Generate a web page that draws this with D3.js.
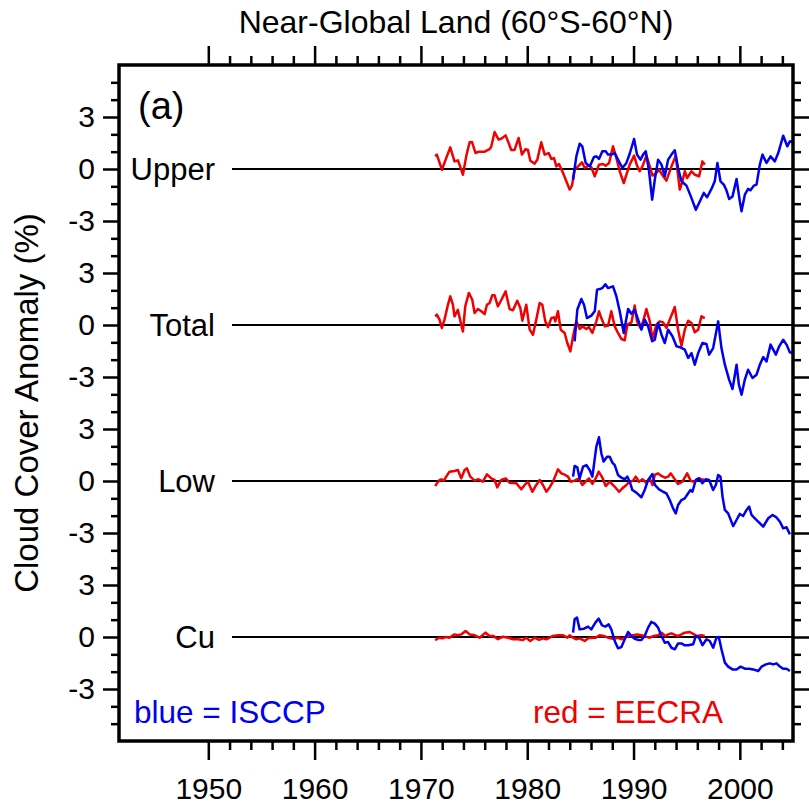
<!DOCTYPE html>
<html>
<head>
<meta charset="utf-8">
<script src="https://cdn.jsdelivr.net/npm/d3@7"></script>
<style>
  body { margin: 0; background: #fff; }
  svg text { font-family: "Liberation Sans", Arial, Helvetica, sans-serif; fill: #000; }
</style>
</head>
<body>
<div id="chart"></div>
<script>
// panels, stacked on one y axis, 9 units apart
const panelNames = ['Upper', 'Total', 'Low', 'Cu'];
const panelOffsets = [27, 18, 9, 0];

const xMajorTicks = [1950, 1960, 1970, 1980, 1990, 2000];
const yTickValues = [-3, 0, 3, 6, 9, 12, 15, 18, 21, 24, 27, 30];
const yTickLabels = ['-3', '0', '3', '-3', '0', '3', '-3', '0', '3', '-3', '0', '3'];

// [year, anomaly %]  red = EECRA, blue = ISCCP
const upperEECRA = [
  [1971.34, 0.73], [1971.50, 0.83], [1971.97, -0.04], [1972.38, 0.63], [1972.76, 1.25], [1973.16, 0.44],
  [1973.48, 0.50], [1973.63, 0.25], [1973.95, -0.33], [1974.26, 0.73], [1974.58, 1.54], [1974.80, 1.56],
  [1975.14, 0.92], [1975.42, 1.00], [1975.99, 1.00], [1976.46, 1.15], [1976.62, 1.30], [1976.93, 2.13],
  [1977.31, 1.69], [1977.56, 1.75], [1977.97, 1.94], [1978.50, 1.10], [1978.81, 1.10], [1979.19, 1.79],
  [1979.50, 0.83], [1979.85, 1.15], [1980.07, 1.10], [1980.29, 0.48], [1980.70, 0.31], [1980.95, 0.54],
  [1981.32, 1.54], [1981.64, 0.83], [1982.02, 0.92], [1982.27, 0.58], [1982.52, 0.63], [1982.74, 0.15],
  [1982.99, 0.29], [1983.37, -0.23], [1983.68, -0.71], [1983.99, -1.19], [1984.21, -0.96], [1984.46, -0.04],
  [1984.78, 0.15], [1985.15, 0.38], [1985.41, 0.06], [1985.81, 0.21], [1986.03, 0.10], [1986.35, -0.42],
  [1986.75, 0.25], [1987.13, 0.29], [1987.38, 0.19], [1987.70, 0.35], [1988.07, 1.31], [1988.39, 0.63],
  [1988.70, -0.13], [1989.08, -0.81], [1989.33, -0.33], [1989.64, 0.25], [1990.05, 0.77], [1990.33, 0.19],
  [1990.58, -0.13], [1990.84, 0.15], [1991.21, 0.77], [1991.53, 0.15], [1991.78, -0.38], [1992.15, -0.23],
  [1992.40, -0.04], [1992.69, -0.33], [1993.09, -0.67], [1993.57, 0.15], [1993.97, 0.77], [1994.35, -1.19],
  [1994.60, -0.71], [1994.82, -0.13], [1995.04, -0.52], [1995.45, -0.13], [1995.76, -0.33], [1996.17, -0.42],
  [1996.48, 0.44], [1996.70, 0.25]
];
const upperISCCP = [
  [1984.31, -0.62], [1984.62, 0.73], [1984.93, 1.46], [1985.18, 1.31], [1985.50, 0.35], [1985.88, 0.15],
  [1986.28, 0.69], [1986.50, 0.73], [1986.75, 0.58], [1987.07, 1.02], [1987.38, 1.02], [1987.60, 0.83],
  [1987.91, 0.83], [1988.23, 0.92], [1988.54, 0.54], [1988.95, 0.06], [1989.33, 0.35], [1989.64, 0.88],
  [1990.05, 1.73], [1990.33, 0.83], [1990.65, 0.54], [1990.90, 0.83], [1991.15, 1.02], [1991.46, -0.13],
  [1991.75, -1.77], [1992.00, -0.62], [1992.31, 0.54], [1992.63, 0.25], [1992.94, -0.42], [1993.25, 0.54],
  [1993.57, 0.83], [1993.88, 1.08], [1994.19, 0.06], [1994.51, -0.71], [1994.98, -0.96], [1995.39, -1.58],
  [1995.86, -2.35], [1996.23, -1.87], [1996.61, -1.38], [1996.92, -1.63], [1997.33, -1.15], [1997.64, -0.71],
  [1997.89, 0.35], [1998.18, -0.71], [1998.49, -0.90], [1998.74, -1.23], [1998.99, -1.73], [1999.31, -1.58],
  [1999.69, -0.58], [2000.00, -1.87], [2000.16, -2.44], [2000.47, -1.48], [2000.78, -1.15], [2001.00, -1.23],
  [2001.32, -0.96], [2001.57, -0.90], [2001.88, 0.25], [2002.13, 0.83], [2002.51, 0.35], [2002.89, 0.73],
  [2003.29, 0.44], [2003.61, 0.92], [2004.08, 1.92], [2004.46, 1.31], [2004.71, 1.60], [2005.02, 1.54]
];

const totalEECRA = [
  [1971.34, 0.50], [1971.50, 0.60], [1971.75, 0.31], [1971.97, -0.17], [1972.22, 0.31], [1972.54, 1.17],
  [1972.76, 1.65], [1973.01, 1.17], [1973.16, 0.50], [1973.48, 0.88], [1973.79, 0.02], [1973.95, -0.37],
  [1974.17, 1.08], [1974.51, 1.85], [1974.83, 1.46], [1975.05, 0.69], [1975.36, 0.92], [1975.68, 0.79],
  [1975.99, 0.63], [1976.21, 1.17], [1976.46, 1.27], [1976.71, 1.71], [1976.93, 1.71], [1977.24, 1.08],
  [1977.50, 1.37], [1977.97, 1.94], [1978.34, 0.92], [1978.66, 0.85], [1979.06, 1.40], [1979.35, 0.98],
  [1979.54, 0.25], [1979.91, 1.17], [1980.23, -0.27], [1980.54, -0.56], [1980.85, 0.31], [1981.17, 1.27],
  [1981.42, 1.17], [1981.70, 0.21], [1981.95, -0.12], [1982.27, 0.40], [1982.52, 0.44], [1982.64, 0.21],
  [1982.89, 0.79], [1983.15, -0.27], [1983.52, -0.46], [1983.77, -1.04], [1984.06, -1.52], [1984.31, -0.65],
  [1984.62, 0.21], [1984.93, -0.23], [1985.18, -0.08], [1985.56, -0.23], [1985.81, -0.12], [1986.13, -0.46],
  [1986.50, 0.21], [1986.75, 0.79], [1986.97, 0.40], [1987.29, -0.08], [1987.60, -0.04], [1987.91, 0.79],
  [1988.23, -0.08], [1988.54, -0.46], [1988.86, -0.81], [1989.17, -0.88], [1989.42, 0.02], [1989.80, 0.15],
  [1990.11, 1.12], [1990.33, 0.21], [1990.65, -0.17], [1990.90, 0.21], [1991.21, 0.92], [1991.53, 0.21],
  [1991.78, -0.81], [1992.15, 0.02], [1992.47, 0.21], [1992.78, 0.15], [1993.09, -0.17], [1993.47, 0.40],
  [1993.88, 1.04], [1994.19, -0.27], [1994.51, -1.19], [1994.82, -0.27], [1995.14, 0.25], [1995.45, 0.12],
  [1995.76, -0.42], [1996.08, -0.27], [1996.39, 0.50], [1996.70, 0.40]
];
const totalISCCP = [
  [1984.46, -0.94], [1984.71, 0.88], [1985.09, 1.50], [1985.34, 1.17], [1985.62, 0.40], [1986.03, 0.54],
  [1986.35, 0.79], [1986.57, 2.04], [1986.82, 2.08], [1987.07, 2.13], [1987.35, 2.35], [1987.60, 2.13],
  [1988.07, 2.23], [1988.39, 1.65], [1988.70, 0.79], [1989.08, -0.46], [1989.49, 0.92], [1989.80, 0.65],
  [1990.11, 0.88], [1990.43, 0.31], [1990.74, -0.27], [1991.05, 0.31], [1991.37, -0.08], [1991.75, -0.94],
  [1992.00, -0.85], [1992.31, 0.12], [1992.63, -0.56], [1992.94, -1.04], [1993.25, -0.27], [1993.66, -0.65],
  [1994.04, -1.23], [1994.41, -1.29], [1994.82, -1.42], [1995.14, -1.90], [1995.45, -1.62], [1995.76, -2.29],
  [1996.08, -1.62], [1996.48, -1.04], [1996.86, -1.10], [1997.11, -1.71], [1997.49, -1.33], [1997.96, 0.21],
  [1998.27, -1.33], [1998.59, -2.29], [1998.99, -3.15], [1999.31, -3.69], [1999.69, -2.29], [1999.91, -3.44],
  [2000.16, -4.02], [2000.47, -3.15], [2000.78, -2.58], [2001.19, -3.06], [2001.57, -2.87], [2001.88, -2.29],
  [2002.20, -1.85], [2002.51, -2.10], [2002.89, -1.13], [2003.14, -1.42], [2003.39, -1.71], [2003.70, -1.23],
  [2004.08, -0.85], [2004.39, -1.13], [2004.71, -1.58], [2005.02, -1.58]
];

const lowEECRA = [
  [1971.34, -0.29], [1971.69, 0.02], [1971.91, 0.10], [1972.16, 0.02], [1972.38, 0.25], [1972.69, 0.54],
  [1973.16, 0.58], [1973.48, 0.63], [1973.79, 0.15], [1974.11, 0.63], [1974.33, 0.73], [1974.64, 0.25],
  [1975.05, 0.02], [1975.42, 0.10], [1975.83, -0.04], [1976.21, 0.38], [1976.62, 0.15], [1976.93, 0.06],
  [1977.18, -0.37], [1977.56, 0.06], [1977.97, 0.15], [1978.34, -0.10], [1978.97, -0.13], [1979.44, -0.48],
  [1979.76, -0.23], [1980.07, -0.04], [1980.48, -0.62], [1980.85, -0.23], [1981.17, 0.06], [1981.48, -0.23],
  [1981.80, -0.62], [1982.11, -0.37], [1982.42, -0.04], [1982.74, 0.44], [1982.89, 0.67], [1983.21, 0.44],
  [1983.58, 0.35], [1983.83, 0.25], [1984.09, -0.04], [1984.46, 0.02], [1984.87, 0.15], [1985.18, -0.23],
  [1985.50, -0.04], [1985.81, 0.15], [1986.13, -0.17], [1986.44, 0.15], [1986.72, 0.54], [1987.07, 0.19],
  [1987.38, -0.29], [1987.76, -0.04], [1988.17, -0.29], [1988.64, -0.62], [1988.95, -0.42], [1989.33, -0.23],
  [1989.64, -0.04], [1989.96, 0.02], [1990.21, 0.25], [1990.52, -0.04], [1990.84, 0.10], [1991.21, -0.10],
  [1991.53, 0.15], [1991.78, -0.23], [1992.00, 0.35], [1992.31, 0.44], [1992.63, 0.29], [1992.94, 0.19],
  [1993.25, 0.25], [1993.50, 0.44], [1993.82, 0.15], [1994.19, -0.17], [1994.60, -0.04], [1995.04, 0.44],
  [1995.39, 0.00], [1995.76, -0.04], [1996.08, 0.15], [1996.39, 0.10], [1996.70, 0.06]
];
const lowISCCP = [
  [1984.31, 0.25], [1984.46, 0.87], [1984.71, 0.79], [1984.93, 0.15], [1985.25, 0.83], [1985.56, 0.92],
  [1985.88, 0.63], [1986.13, 0.25], [1986.50, 1.98], [1986.75, 2.52], [1986.97, 1.60], [1987.19, 1.12],
  [1987.51, 1.40], [1987.76, 1.40], [1988.01, 1.06], [1988.23, 0.92], [1988.54, 0.35], [1988.86, 0.19],
  [1989.17, 0.10], [1989.42, 0.25], [1989.64, -0.04], [1989.89, -0.52], [1990.27, -0.67], [1990.74, -0.94],
  [1991.05, -0.52], [1991.37, 0.06], [1991.78, 0.40], [1992.00, -0.23], [1992.40, -0.48], [1992.78, -0.62],
  [1993.09, -0.71], [1993.41, -1.10], [1993.72, -1.58], [1993.97, -1.87], [1994.19, -1.38], [1994.51, -1.10],
  [1994.82, -1.00], [1995.14, -0.71], [1995.36, -0.52], [1995.54, -0.62], [1995.86, 0.06], [1996.17, 0.15],
  [1996.48, -0.13], [1996.80, 0.10], [1997.11, 0.06], [1997.49, -0.52], [1997.74, -0.23], [1997.96, 0.35],
  [1998.18, 0.25], [1998.37, -0.90], [1998.59, -1.67], [1998.90, -1.87], [1999.37, -2.60], [1999.69, -2.25],
  [2000.00, -1.90], [2000.31, -2.02], [2000.63, -1.67], [2000.88, -1.48], [2001.10, -1.96], [2001.41, -2.15],
  [2001.82, -2.40], [2002.20, -2.63], [2002.67, -2.15], [2003.08, -1.96], [2003.45, -2.10], [2003.77, -2.35],
  [2004.08, -2.73], [2004.39, -2.67], [2004.71, -3.08]
];

const cuEECRA = [
  [1971.34, -0.19], [1971.69, -0.04], [1972.00, -0.08], [1972.38, 0.00], [1972.69, -0.04], [1973.16, 0.15],
  [1973.48, 0.10], [1973.79, 0.15], [1974.20, 0.35], [1974.58, 0.15], [1974.95, 0.12], [1975.52, -0.04],
  [1976.08, 0.25], [1976.46, 0.06], [1976.84, 0.06], [1977.24, -0.13], [1977.72, 0.02], [1978.19, -0.04],
  [1978.66, -0.13], [1979.13, -0.13], [1979.60, -0.17], [1979.91, -0.04], [1980.29, -0.23], [1980.70, -0.04],
  [1981.11, -0.17], [1981.48, -0.08], [1981.80, -0.13], [1982.11, -0.04], [1982.42, 0.06], [1982.89, 0.10],
  [1983.37, 0.10], [1983.77, -0.04], [1983.99, 0.10], [1984.31, -0.04], [1984.62, -0.13], [1984.93, -0.08],
  [1985.41, -0.23], [1985.72, -0.08], [1986.13, -0.04], [1986.44, -0.04], [1986.82, 0.10], [1987.19, 0.06],
  [1987.60, -0.04], [1988.07, -0.10], [1988.54, -0.04], [1988.86, -0.13], [1989.27, 0.00], [1989.64, 0.06],
  [1989.96, 0.10], [1990.33, 0.15], [1990.74, 0.10], [1991.15, 0.02], [1991.53, -0.04], [1991.90, 0.06],
  [1992.31, 0.10], [1992.63, 0.25], [1993.00, 0.06], [1993.25, 0.15], [1993.57, 0.21], [1993.88, 0.12],
  [1994.19, 0.06], [1994.51, 0.15], [1994.82, 0.25], [1995.29, 0.29], [1995.70, 0.15], [1995.92, 0.06],
  [1996.39, 0.10], [1996.70, 0.06]
];
const cuISCCP = [
  [1984.31, 0.25], [1984.46, 1.02], [1984.68, 1.12], [1984.93, 0.44], [1985.34, 0.48], [1985.72, 0.60],
  [1986.03, 0.44], [1986.41, 0.83], [1986.72, 1.06], [1987.04, 0.67], [1987.35, 0.60], [1987.66, 0.73],
  [1987.91, 0.44], [1988.23, -0.23], [1988.54, -0.65], [1988.86, -0.58], [1989.17, -0.13], [1989.49, 0.29],
  [1989.80, 0.06], [1990.11, -0.10], [1990.43, -0.17], [1990.74, -0.17], [1991.05, 0.06], [1991.37, 0.54],
  [1991.68, 0.87], [1992.00, 0.77], [1992.31, 0.54], [1992.63, 0.06], [1992.94, -0.33], [1993.25, -0.29],
  [1993.57, -0.62], [1993.88, -0.71], [1994.19, -0.37], [1994.51, -0.37], [1994.82, -0.48], [1995.14, -0.48],
  [1995.61, -0.42], [1995.86, 0.06], [1996.17, -0.04], [1996.48, -0.48], [1996.86, -0.13], [1997.17, -0.23],
  [1997.49, -0.62], [1997.80, -0.04], [1998.02, 0.00], [1998.27, -0.71], [1998.59, -1.48], [1998.90, -1.71],
  [1999.31, -1.87], [1999.69, -1.87], [2000.07, -1.71], [2000.47, -1.83], [2000.88, -1.83], [2001.26, -1.87],
  [2001.73, -1.96], [2002.04, -1.71], [2002.45, -1.58], [2002.82, -1.52], [2003.14, -1.58], [2003.45, -1.52],
  [2003.70, -1.67], [2004.08, -1.83], [2004.39, -1.83], [2004.71, -1.96]
];

const eecraSeries = [upperEECRA, totalEECRA, lowEECRA, cuEECRA];
const isccpSeries = [upperISCCP, totalISCCP, lowISCCP, cuISCCP];

const BLUE = '#0000f0';
const RED = '#f00000';

const W = 809, H = 810;
const m = { top: 65, right: 16, bottom: 69, left: 119 };
const innerW = W - m.left - m.right;
const innerH = H - m.top - m.bottom;

const svg = d3.select('#chart').append('svg')
  .attr('width', W)
  .attr('height', H)
  .attr('viewBox', `0 0 ${W} ${H}`);

const g = svg.append('g').attr('transform', `translate(${m.left},${m.top})`);

const x = d3.scaleLinear().domain([1941.6, 2005]).range([0, innerW]);
const y = d3.scaleLinear().domain([-6, 33]).range([innerH, 0]);

g.append('clipPath').attr('id', 'clip')
  .append('rect').attr('width', innerW).attr('height', innerH);

// zero lines + panel names
panelOffsets.forEach((off, i) => {
  g.append('line')
    .attr('x1', 113).attr('x2', innerW)
    .attr('y1', y(off)).attr('y2', y(off))
    .attr('stroke', '#000').attr('stroke-width', 2);
  g.append('text')
    .attr('x', 96).attr('y', y(off))
    .attr('dy', '0.35em')
    .attr('text-anchor', 'end')
    .style('font-size', '31px')
    .text(panelNames[i]);
});

const line = off => d3.line().x(d => x(d[0])).y(d => y(d[1] + off));

const plot = g.append('g').attr('clip-path', 'url(#clip)');
panelOffsets.forEach((off, i) => {
  plot.append('path').datum(eecraSeries[i])
    .attr('d', line(off)).attr('fill', 'none')
    .attr('stroke', RED).attr('stroke-width', 2.5).attr('stroke-linejoin', 'round');
  plot.append('path').datum(isccpSeries[i])
    .attr('d', line(off)).attr('fill', 'none')
    .attr('stroke', BLUE).attr('stroke-width', 2.5).attr('stroke-linejoin', 'round');
});

// axes
const xMinor = d3.range(1952, 2005, 2).filter(v => v % 10 !== 0);
const yMinor = d3.range(-6, 34).filter(v => v % 3 !== 0);

function styleAxis(sel) {
  sel.select('.domain').remove();
  sel.selectAll('.tick line').attr('stroke', '#000').attr('stroke-width', 2.5);
  sel.selectAll('.tick text').style('font-size', '30px');
}

g.append('g').attr('transform', `translate(0,${innerH})`)
  .call(d3.axisBottom(x).tickValues(xMajorTicks).tickSize(19).tickPadding(18).tickFormat(d3.format('d')))
  .call(styleAxis);
g.append('g').attr('transform', `translate(0,${innerH})`)
  .call(d3.axisBottom(x).tickValues(xMinor).tickSize(9).tickFormat(''))
  .call(styleAxis);
g.append('g')
  .call(d3.axisTop(x).tickValues(xMajorTicks).tickSize(19).tickFormat(''))
  .call(styleAxis);
g.append('g')
  .call(d3.axisTop(x).tickValues(xMinor).tickSize(9).tickFormat(''))
  .call(styleAxis);

g.append('g')
  .call(d3.axisLeft(y).tickValues(yTickValues).tickSize(16).tickPadding(8)
    .tickFormat((d, i) => yTickLabels[i]))
  .call(styleAxis);
g.append('g')
  .call(d3.axisLeft(y).tickValues(yMinor).tickSize(8).tickFormat(''))
  .call(styleAxis);
g.append('g').attr('transform', `translate(${innerW},0)`)
  .call(d3.axisRight(y).tickValues(yTickValues).tickSize(16).tickFormat(''))
  .call(styleAxis);
g.append('g').attr('transform', `translate(${innerW},0)`)
  .call(d3.axisRight(y).tickValues(yMinor).tickSize(8).tickFormat(''))
  .call(styleAxis);

// frame
g.append('rect')
  .attr('width', innerW).attr('height', innerH)
  .attr('fill', 'none').attr('stroke', '#000').attr('stroke-width', 3.5);

// texts
svg.append('text')
  .attr('x', m.left + innerW / 2).attr('y', 33)
  .attr('text-anchor', 'middle')
  .style('font-size', '32px')
  .text('Near-Global Land (60°S-60°N)');

svg.append('text')
  .attr('transform', `translate(38,${m.top + innerH / 2}) rotate(-90)`)
  .attr('text-anchor', 'middle')
  .style('font-size', '33px')
  .text('Cloud Cover Anomaly (%)');

g.append('text')
  .attr('x', 19).attr('y', 54)
  .style('font-size', '38px')
  .text('(a)');

g.append('text')
  .attr('x', 15).attr('y', innerH - 18)
  .style('font-size', '31.5px')
  .style('fill', BLUE)
  .text('blue = ISCCP');

g.append('text')
  .attr('x', 604).attr('y', innerH - 18)
  .attr('text-anchor', 'end')
  .style('font-size', '31.5px')
  .style('fill', RED)
  .text('red = EECRA');
</script>
</body>
</html>
